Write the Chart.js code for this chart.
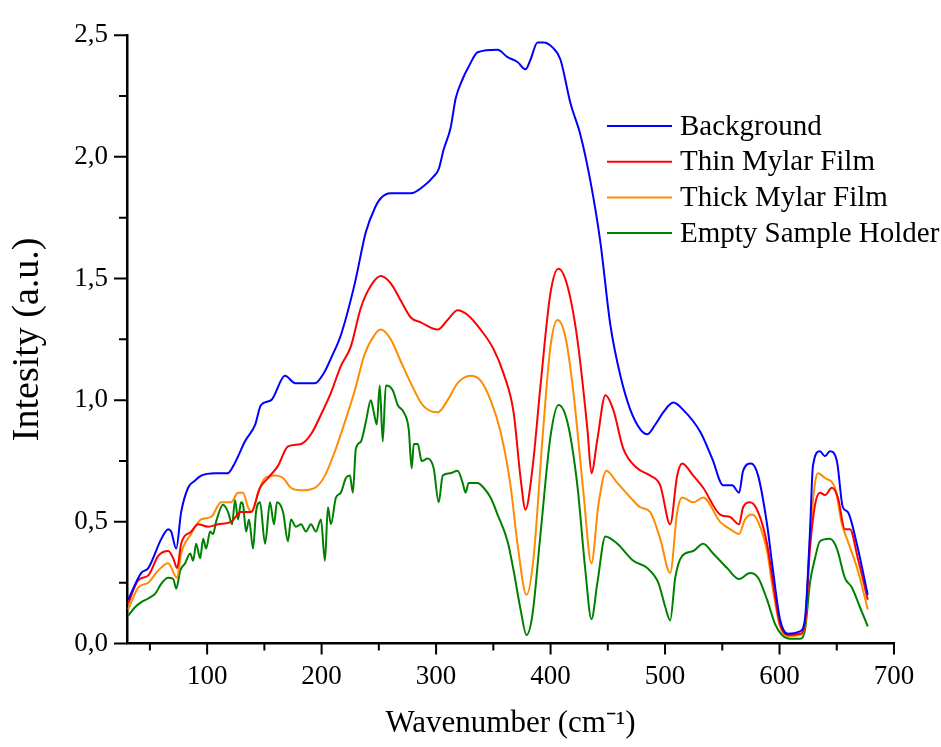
<!DOCTYPE html>
<html>
<head>
<meta charset="utf-8">
<script src="https://cdn.jsdelivr.net/npm/chart.js@4.4.1/dist/chart.umd.min.js"></script>
<style>
  html, body { margin: 0; padding: 0; background: #fff; }
  #wrap { width: 941px; height: 747px; position: relative; }
</style>
</head>
<body>
<div id="wrap"><canvas id="spectrum"></canvas></div>
<script>
const seriesLabels = ["Background", "Thin Mylar Film", "Thick Mylar Film", "Empty Sample Holder"]
const seriesColors = ["#0000ff", "#ff0000", "#ff8c00", "#008000"]

const xTicks = [100, 200, 300, 400, 500, 600, 700]
const yTicks = [0, 0.5, 1, 1.5, 2, 2.5]

// Background
const bgWave = [31, 42.5, 48.6, 60, 66, 68.6, 73, 77.3, 83.4, 89.5, 94.8, 107, 118, 124, 133, 142, 147, 156, 168, 177, 194, 203, 208, 217, 229, 238.6, 246.5, 251.7, 260.4, 277.9, 289.2, 297.9, 302.3, 306.6, 312.7, 317.1, 323.2, 328.4, 336.3, 353.7, 362.4, 371.1, 378.1, 382.5, 388.6, 393.8, 401.7, 408.6, 417.4, 426.1, 434.8, 443.5, 452.2, 461, 469.7, 478.4, 484.5, 491.5, 498.4, 507.2, 515.9, 530.7, 541.2, 550.8, 558.6, 564.7, 568.2, 575.2, 581.3, 589.1, 594.3, 600.4, 607.4, 617.9, 622.2, 626.6, 629.2, 635.3, 639.7, 644, 650.1, 655.3, 659.7, 667.5, 677.1]
const bgInt = [0.18, 0.29, 0.31, 0.43, 0.47, 0.46, 0.39, 0.54, 0.64, 0.67, 0.69, 0.70, 0.70, 0.74, 0.83, 0.90, 0.98, 1.00, 1.10, 1.07, 1.07, 1.12, 1.17, 1.27, 1.48, 1.69, 1.79, 1.83, 1.85, 1.85, 1.88, 1.92, 1.95, 2.03, 2.12, 2.24, 2.32, 2.37, 2.43, 2.44, 2.41, 2.39, 2.36, 2.40, 2.47, 2.47, 2.45, 2.40, 2.22, 2.09, 1.90, 1.65, 1.31, 1.10, 0.96, 0.88, 0.86, 0.90, 0.95, 0.99, 0.96, 0.87, 0.76, 0.65, 0.65, 0.62, 0.71, 0.74, 0.69, 0.49, 0.30, 0.10, 0.04, 0.05, 0.10, 0.46, 0.73, 0.79, 0.77, 0.79, 0.75, 0.56, 0.54, 0.41, 0.20]

// Thin Mylar Film
const thinWave = [31.1, 39.8, 48.6, 57.3, 66, 70.4, 73.8, 77.3, 86, 92.2, 100.9, 109.6, 120.9, 129.6, 138.4, 146.2, 153.2, 161.9, 170.6, 182, 190.7, 199.4, 208.1, 216.8, 225.5, 234.3, 243, 251.7, 260.4, 269.1, 277.9, 286.6, 301.4, 310.1, 318.8, 327.6, 338.9, 350.2, 358.9, 367.7, 373.8, 378.1, 384.2, 391.2, 399.9, 406.9, 414.7, 423.4, 432.2, 435.7, 440.9, 447.9, 454.8, 463.6, 475.8, 487.1, 495.8, 504.5, 510.6, 515, 524.6, 533.3, 548.1, 556.8, 564.7, 568.2, 574.3, 581.3, 589.1, 594.3, 600.4, 607.4, 617.9, 622.2, 626.6, 631, 635.3, 639.7, 645.8, 651, 657.1, 661.5, 668.4, 677.1]
const thinInt = [0.165, 0.26, 0.28, 0.36, 0.38, 0.35, 0.31, 0.41, 0.46, 0.49, 0.48, 0.49, 0.50, 0.54, 0.54, 0.64, 0.68, 0.73, 0.81, 0.82, 0.86, 0.94, 1.03, 1.14, 1.22, 1.38, 1.47, 1.51, 1.48, 1.41, 1.34, 1.32, 1.29, 1.33, 1.37, 1.35, 1.29, 1.21, 1.11, 0.95, 0.68, 0.55, 0.72, 1.06, 1.44, 1.54, 1.47, 1.25, 0.88, 0.70, 0.84, 1.02, 0.96, 0.80, 0.72, 0.69, 0.65, 0.49, 0.69, 0.74, 0.69, 0.64, 0.53, 0.52, 0.49, 0.56, 0.58, 0.54, 0.41, 0.25, 0.08, 0.035, 0.04, 0.08, 0.39, 0.57, 0.62, 0.61, 0.64, 0.60, 0.47, 0.47, 0.35, 0.18]

// Thick Mylar Film
const thickWave = [31.1, 39.8, 48.6, 57.3, 66, 73.8, 77.3, 86, 94.8, 103.5, 112.2, 120.9, 127, 131.4, 135.7, 139.2, 144.5, 150.6, 159.3, 166.3, 173.2, 182, 194.2, 202.9, 211.6, 220.3, 229, 237.7, 246.5, 251.7, 260.4, 269.1, 277.9, 288.3, 301.4, 310.1, 318.8, 330.2, 338.9, 347.6, 356.3, 365, 371.1, 379, 385.1, 392.9, 399.9, 406, 413, 420, 428.7, 435.7, 441.8, 448.7, 458.3, 469.7, 478.4, 487.1, 495.8, 504.5, 510.6, 515, 524.6, 533.3, 548.1, 556.8, 564.7, 569.9, 576, 581.3, 589.1, 594.3, 600.4, 607.4, 617.9, 622.2, 626.6, 631, 633.6, 639.7, 648.4, 654.5, 659.7, 668.4, 677.1]
const thickInt = [0.14, 0.23, 0.25, 0.30, 0.33, 0.27, 0.37, 0.45, 0.51, 0.52, 0.58, 0.58, 0.62, 0.62, 0.56, 0.54, 0.62, 0.68, 0.69, 0.68, 0.64, 0.63, 0.64, 0.69, 0.79, 0.91, 1.04, 1.19, 1.27, 1.29, 1.25, 1.16, 1.07, 0.98, 0.95, 1.00, 1.07, 1.10, 1.08, 1.00, 0.87, 0.65, 0.41, 0.20, 0.35, 0.84, 1.22, 1.33, 1.26, 1.03, 0.62, 0.33, 0.57, 0.71, 0.66, 0.60, 0.56, 0.54, 0.43, 0.29, 0.54, 0.60, 0.58, 0.60, 0.50, 0.47, 0.45, 0.51, 0.53, 0.50, 0.38, 0.22, 0.07, 0.03, 0.035, 0.075, 0.43, 0.66, 0.70, 0.68, 0.64, 0.49, 0.42, 0.30, 0.14]

// Empty Sample Holder
const emptyWave = [31.1, 37.2, 42.5, 48.6, 54.7, 59.9, 66, 70.4, 73, 76.5, 80.8, 85.2, 87.8, 90.4, 93.9, 96.5, 99.1, 102.6, 105.2, 107.8, 113.9, 118.3, 121.8, 124.4, 127, 129.6, 131.4, 134, 136.6, 140.1, 142.7, 146.2, 150.6, 154.9, 158.4, 161, 166.3, 170.6, 173.2, 177.6, 182, 186.3, 190.7, 195, 199.4, 202.9, 205.5, 208.1, 212.5, 216.8, 221.2, 224.7, 227.3, 229.9, 234.3, 238.6, 243, 245.6, 248.2, 250.8, 253.4, 256.1, 262.2, 266.5, 271.8, 276.1, 278.7, 280.5, 284, 287.4, 292.7, 297.9, 302.3, 305.8, 312.7, 318.8, 323.2, 325.8, 328.4, 336.3, 341.5, 347.6, 353.7, 362.4, 367.7, 373.8, 379, 384.2, 391.2, 399.9, 406.9, 414.7, 423.4, 430.4, 435.7, 440.9, 447.9, 458.3, 472.3, 484.5, 494.1, 500.2, 504.5, 508.9, 515, 524.6, 533.3, 542, 554.2, 564.7, 574.3, 581.3, 589.1, 596.1, 602.2, 609.2, 617.9, 622.2, 626.6, 631, 635.3, 644, 650.1, 657.1, 663.2, 670.2, 677.1]
const emptyInt = [0.115, 0.15, 0.17, 0.185, 0.205, 0.245, 0.27, 0.265, 0.225, 0.30, 0.33, 0.37, 0.34, 0.41, 0.35, 0.43, 0.39, 0.46, 0.45, 0.50, 0.57, 0.54, 0.49, 0.59, 0.51, 0.58, 0.57, 0.46, 0.51, 0.39, 0.54, 0.58, 0.41, 0.58, 0.49, 0.58, 0.54, 0.42, 0.51, 0.48, 0.49, 0.46, 0.49, 0.46, 0.51, 0.34, 0.56, 0.49, 0.60, 0.62, 0.68, 0.69, 0.62, 0.80, 0.83, 0.91, 1.00, 0.95, 0.90, 1.06, 0.83, 1.06, 1.04, 0.98, 0.95, 0.88, 0.72, 0.82, 0.82, 0.75, 0.76, 0.72, 0.58, 0.69, 0.70, 0.71, 0.66, 0.62, 0.66, 0.66, 0.64, 0.60, 0.53, 0.42, 0.30, 0.14, 0.035, 0.12, 0.45, 0.85, 0.98, 0.91, 0.65, 0.30, 0.10, 0.25, 0.44, 0.41, 0.34, 0.31, 0.25, 0.15, 0.095, 0.27, 0.36, 0.38, 0.41, 0.37, 0.31, 0.265, 0.29, 0.27, 0.18, 0.08, 0.035, 0.02, 0.02, 0.055, 0.25, 0.35, 0.42, 0.43, 0.39, 0.27, 0.23, 0.15, 0.07]

const serif = "'Liberation Serif', 'Times New Roman', serif"
const toPoints = (xs, ys) => xs.map((x, i) => ({ x: x, y: ys[i] }))
const series = [
  toPoints(bgWave, bgInt),
  toPoints(thinWave, thinInt),
  toPoints(thickWave, thickInt),
  toPoints(emptyWave, emptyInt),
]

// outward major/minor tick marks, origin style
const tickMarks = {
  id: "tickMarks",
  afterDraw(chart) {
    const { ctx, chartArea, scales } = chart
    ctx.save()
    ctx.strokeStyle = "#000"
    ctx.lineWidth = 2
    ctx.beginPath()
    xTicks.forEach((v) => {
      const px = scales.x.getPixelForValue(v)
      ctx.moveTo(px, chartArea.bottom)
      ctx.lineTo(px, chartArea.bottom + 11)
      const mx = scales.x.getPixelForValue(v - 50)
      ctx.moveTo(mx, chartArea.bottom)
      ctx.lineTo(mx, chartArea.bottom + 7)
    })
    yTicks.forEach((v, i) => {
      const py = scales.y.getPixelForValue(v)
      ctx.moveTo(chartArea.left, py)
      ctx.lineTo(chartArea.left - 13, py)
      if (i > 0) {
        const my = scales.y.getPixelForValue(v - 0.25)
        ctx.moveTo(chartArea.left, my)
        ctx.lineTo(chartArea.left - 8, my)
      }
    })
    ctx.stroke()
    ctx.restore()
  },
}

// legend drawn inside the plot, top right
const insideLegend = {
  id: "insideLegend",
  afterDatasetsDraw(chart) {
    const ctx = chart.ctx
    ctx.save()
    ctx.font = "29px " + serif
    ctx.textBaseline = "middle"
    chart.data.datasets.forEach((ds, i) => {
      const y = 126 + i * 35.7
      ctx.strokeStyle = ds.borderColor
      ctx.lineWidth = 2
      ctx.beginPath()
      ctx.moveTo(607, y)
      ctx.lineTo(672, y)
      ctx.stroke()
      ctx.fillStyle = "#000"
      ctx.fillText(ds.label, 680, y + 1)
    })
    ctx.restore()
  },
}

new Chart(document.getElementById("spectrum"), {
  type: "line",
  data: {
    datasets: series.map((pts, i) => ({
      label: seriesLabels[i],
      data: pts,
      borderColor: seriesColors[i],
      borderWidth: 2,
      pointRadius: 0,
      cubicInterpolationMode: "monotone",
      fill: false,
    })),
  },
  options: {
    responsive: true,
    maintainAspectRatio: false,
    animation: false,
    layout: { padding: { top: 29, right: 47, left: 0, bottom: 0 } },
    plugins: { legend: { display: false }, tooltip: { enabled: false } },
    scales: {
      x: {
        type: "linear",
        min: 30,
        max: 700,
        afterFit: (scale) => { scale.height = 103.5 },
        afterBuildTicks: (scale) => { scale.ticks = xTicks.map((v) => ({ value: v })) },
        ticks: { color: "#000", font: { family: serif, size: 27 }, padding: 17, maxRotation: 0, autoSkip: false },
        grid: { drawOnChartArea: false, drawTicks: false },
        border: { color: "#000", width: 2.5 },
        title: { display: true, text: "Wavenumber (cm⁻¹)", color: "#000", font: { family: serif, size: 31 }, padding: { top: 0, bottom: 5 } },
      },
      y: {
        min: 0,
        max: 2.5,
        afterFit: (scale) => { scale.width = 127 },
        afterBuildTicks: (scale) => { scale.ticks = yTicks.map((v) => ({ value: v })) },
        ticks: { color: "#000", font: { family: serif, size: 27 }, padding: 19, callback: (v) => v.toFixed(1).replace(".", ",") },
        grid: { drawOnChartArea: false, drawTicks: false },
        border: { color: "#000", width: 2.5 },
        title: { display: true, text: "Intesity (a.u.)", color: "#000", font: { family: serif, size: 38 }, padding: { top: 5, bottom: 0 } },
      },
    },
  },
  plugins: [tickMarks, insideLegend],
})
</script>
</body>
</html>
